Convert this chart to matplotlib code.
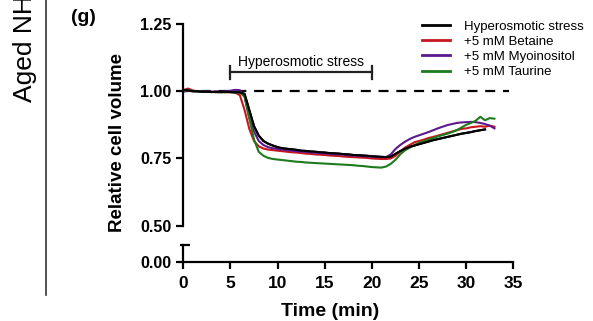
import numpy as np
import matplotlib
matplotlib.use("Agg")
import matplotlib.pyplot as plt

plt.rcParams['font.family'] = ['Liberation Sans', 'DejaVu Sans']

# ---------------- data ----------------
time = [0.0, 0.5, 1.0, 1.5, 2.0, 2.5, 3.0, 3.5, 4.0, 4.5, 5.0, 5.5, 6.0, 6.5, 7.0, 7.5,
        8.0, 8.5, 9.0, 9.5, 10.0, 10.5, 11.0, 11.5, 12.0, 12.5, 13.0, 13.5, 14.0, 14.5,
        15.0, 15.5, 16.0, 16.5, 17.0, 17.5, 18.0, 18.5, 19.0, 19.5, 20.0, 20.5, 21.0,
        21.5, 22.0, 22.5, 23.0, 23.5, 24.0, 24.5, 25.0, 25.5, 26.0, 26.5, 27.0, 27.5,
        28.0, 28.5, 29.0, 29.5, 30.0, 30.5, 31.0, 31.5, 32.0, 32.5, 33.0]

hyperosmotic = [1.005, 1.003, 1.000, 1.000, 0.998, 0.998, 0.997, 0.998, 0.997, 0.998, 0.997,
                0.996, 0.996, 0.990, 0.930, 0.870, 0.835, 0.815, 0.805, 0.798, 0.792, 0.788,
                0.786, 0.784, 0.782, 0.779, 0.778, 0.776, 0.775, 0.773, 0.772, 0.770, 0.769,
                0.768, 0.766, 0.765, 0.763, 0.762, 0.761, 0.760, 0.758, 0.757, 0.756, 0.755,
                0.757, 0.767, 0.777, 0.786, 0.793, 0.798, 0.803, 0.808, 0.813, 0.818, 0.822,
                0.826, 0.830, 0.834, 0.838, 0.842, 0.845, 0.848, 0.852, 0.855, 0.858,
                np.nan, np.nan]

betaine = [1.004, 1.010, 1.003, 1.000, 0.999, 0.997, 0.998, 0.996, 0.997, 0.996, 0.997,
           0.995, 0.985, 0.930, 0.860, 0.815, 0.795, 0.787, 0.783, 0.781, 0.779, 0.777,
           0.775, 0.773, 0.772, 0.770, 0.768, 0.767, 0.765, 0.764, 0.763, 0.761, 0.760,
           0.759, 0.757, 0.756, 0.755, 0.754, 0.753, 0.752, 0.750, 0.749, 0.748, 0.748,
           0.750, 0.760, 0.775, 0.790, 0.800, 0.810, 0.815, 0.820, 0.826, 0.830, 0.835,
           0.840, 0.845, 0.850, 0.855, 0.860, 0.862, 0.866, 0.868, 0.870, 0.868, 0.872,
           0.868]

myoinositol = [0.998, 1.002, 1.001, 1.000, 0.999, 0.999, 0.998, 0.999, 0.998, 1.000, 1.002,
               1.005, 1.004, 0.980, 0.900, 0.850, 0.815, 0.800, 0.792, 0.788, 0.785, 0.783,
               0.781, 0.779, 0.777, 0.776, 0.774, 0.773, 0.771, 0.770, 0.769, 0.767, 0.766,
               0.765, 0.764, 0.762, 0.761, 0.760, 0.759, 0.758, 0.757, 0.756, 0.755, 0.755,
               0.765, 0.785, 0.800, 0.812, 0.822, 0.830, 0.836, 0.842, 0.848, 0.855, 0.862,
               0.868, 0.874, 0.878, 0.882, 0.884, 0.885, 0.886, 0.885, 0.882, 0.878, 0.872,
               0.862]

taurine = [1.002, 1.004, 1.001, 0.999, 0.998, 0.998, 0.997, 0.997, 0.996, 0.997, 0.996,
           0.996, 0.995, 0.980, 0.900, 0.820, 0.775, 0.760, 0.752, 0.748, 0.746, 0.744,
           0.742, 0.740, 0.738, 0.737, 0.735, 0.734, 0.733, 0.732, 0.731, 0.730, 0.729,
           0.728, 0.727, 0.726, 0.725, 0.723, 0.722, 0.720, 0.718, 0.717, 0.716, 0.720,
           0.730, 0.745, 0.765, 0.780, 0.790, 0.800, 0.808, 0.814, 0.820, 0.826, 0.832,
           0.837, 0.842, 0.848, 0.855, 0.865, 0.875, 0.882, 0.890, 0.905, 0.892, 0.900,
           0.898]

series_names = ["Hyperosmotic stress", "+5 mM Betaine", "+5 mM Myoinositol", "+5 mM Taurine"]
series_colors = ["#000000", "#c8161e", "#5b1a8c", "#1d7a1d"]

yticks_main = [0.50, 0.75, 1.00, 1.25]
xticks = [0, 5, 10, 15, 20, 25, 30, 35]
stress_start, stress_end = 5, 20
baseline = 1.0

# ---------------- figure ----------------
W, H = 593, 321
fig = plt.figure(figsize=(W / 100, H / 100), dpi=100)

def fx(px):
    return px / W

def fy(py):
    return 1 - py / H

left = fx(183.3)
right = fx(513.3)
ax = fig.add_axes([left, fy(225.7), right - left, fy(24) - fy(225.7)])
axb = fig.add_axes([left, fy(261.7), right - left, fy(245) - fy(261.7)])

lw_spine = 1.6
for a in (ax, axb):
    for s in ("top", "right"):
        a.spines[s].set_visible(False)
    a.spines["left"].set_linewidth(lw_spine)
    a.spines["bottom"].set_linewidth(lw_spine)
    a.set_xlim(0, 35)
    a.tick_params(width=lw_spine, length=5, labelsize=11.5, pad=3.5, direction="out")

ax.spines["bottom"].set_visible(False)
ax.set_ylim(0.5, 1.25)
ax.set_yticks(yticks_main)
ax.set_yticklabels([f"{v:.2f}" for v in yticks_main], fontweight="bold")
ax.set_xticks([])

axb.set_ylim(0, 1)
axb.set_yticks([0])
axb.set_yticklabels(["0.00"], fontweight="bold")
axb.set_xticks(xticks)
axb.set_xticklabels([str(v) for v in xticks], fontweight="bold", fontsize=12.5)
axb.tick_params(axis="x", pad=5)
# break cap at top of the lower axis segment
axb.plot([-0.33, 0.75], [1, 1], color="black", lw=lw_spine, clip_on=False,
         solid_capstyle="butt")

# baseline dashed line
ax.plot([0, 34.5], [baseline, baseline], color="black", lw=1.6, ls=(0, (4.5, 3.5)))

for vals, name, col in zip([hyperosmotic, betaine, myoinositol, taurine], series_names, series_colors):
    ax.plot(time, vals, color=col, lw=1.5, label=name)

# redraw black on top
ax.plot(time, hyperosmotic, color=series_colors[0], lw=1.5)

# stress bracket
by = 1.071
ax.plot([stress_start, stress_end], [by, by], color="#222222", lw=1.6)
ax.plot([stress_start, stress_start], [by - 0.027, by + 0.022], color="#222222", lw=1.6)
ax.plot([stress_end, stress_end], [by - 0.027, by + 0.022], color="#222222", lw=1.6)
ax.text((stress_start + stress_end) / 2, by + 0.038, "Hyperosmotic stress",
        ha="center", va="center", fontsize=10)

leg = ax.legend(loc="upper left", bbox_to_anchor=(fx(422), fy(20.5)),
                bbox_transform=fig.transFigure, frameon=False, fontsize=9.5,
                handlelength=2.1, handletextpad=1.1, labelspacing=0.22,
                borderpad=0, borderaxespad=0)
for line in leg.get_lines():
    line.set_linewidth(2.0)

fig.text(fx(117.5), fy(142.5), "Relative cell volume", rotation=90, ha="center",
         va="center", fontsize=13.5, fontweight="bold")
fig.text(fx(330), fy(316.5), "Time (min)", ha="center", va="baseline",
         fontsize=14, fontweight="bold")
fig.text(fx(83), fy(18), "(g)", ha="center", va="center", fontsize=14, fontweight="bold")
fig.text(fx(31.7), fy(102), "Aged NH", rotation=90, rotation_mode="anchor",
         ha="left", va="baseline", fontsize=19)
fig.add_artist(plt.Line2D([fx(46), fx(46)], [fy(295), 1.0], color="#333333", lw=1.2,
                          transform=fig.transFigure))

fig.savefig("out.png", dpi=100)
